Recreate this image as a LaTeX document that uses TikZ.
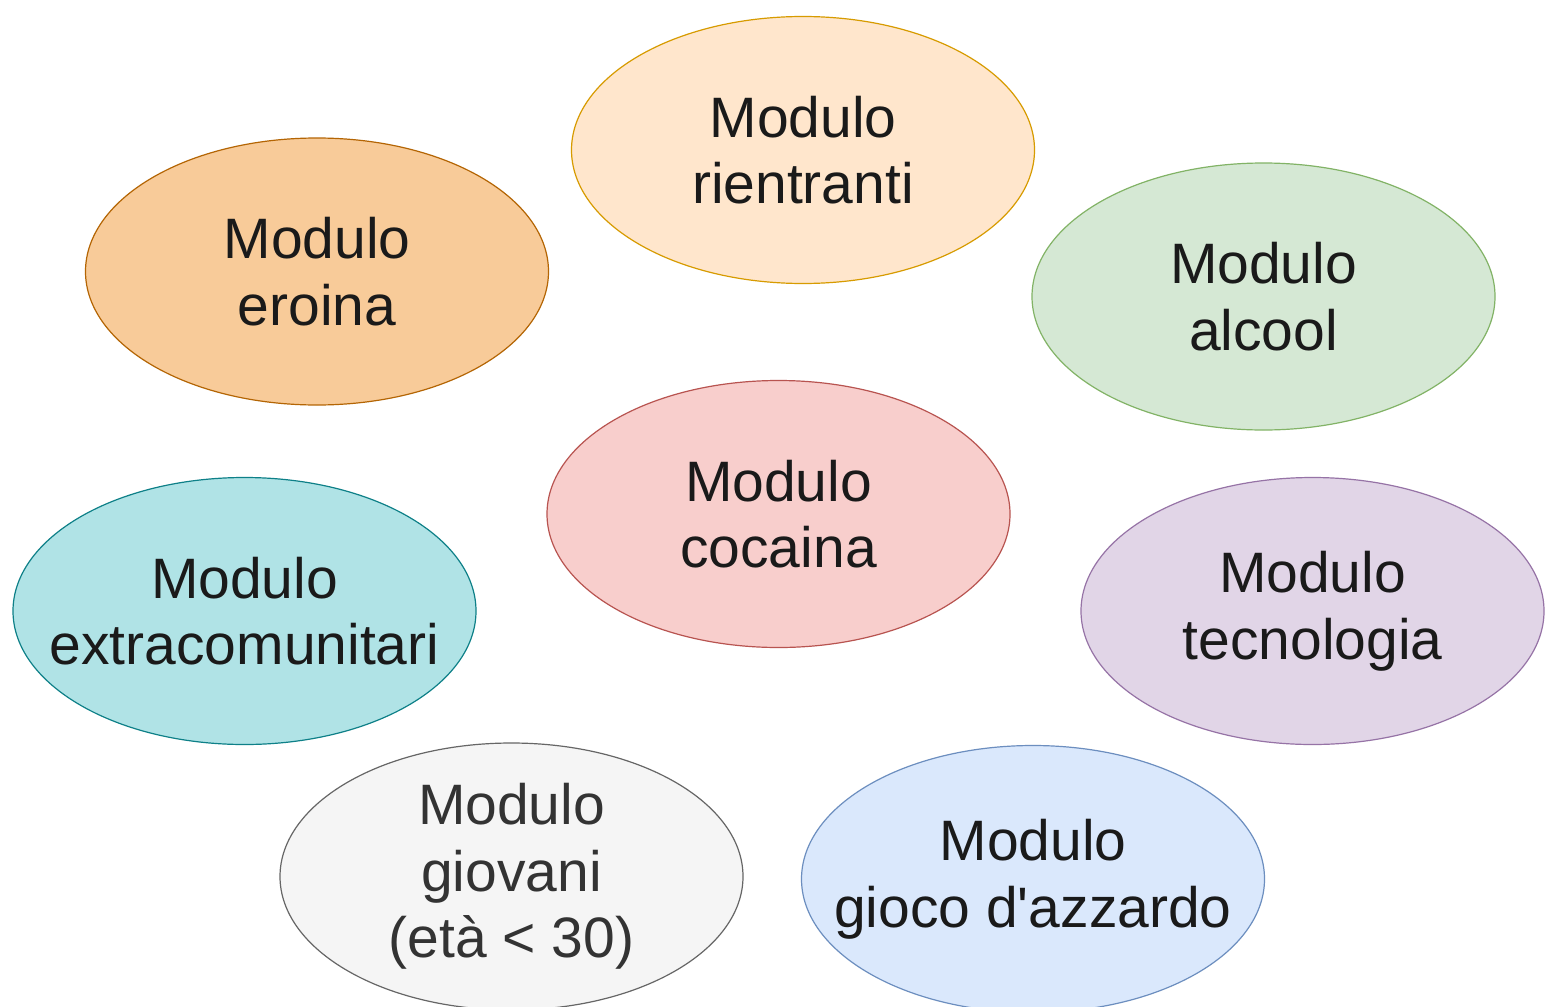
\documentclass[tikz,border=0pt]{standalone}
\usepackage{fontspec}
\setmainfont{Liberation Sans}[Ligatures=TeXOff]
\usetikzlibrary{shapes.geometric}
\definecolor{fOrL}{HTML}{FFE6CC}\definecolor{dOrL}{HTML}{D79B00}
\definecolor{fOr}{HTML}{F8CB99}\definecolor{dOr}{HTML}{B46504}
\definecolor{fGr}{HTML}{D5E8D4}\definecolor{dGr}{HTML}{82B366}
\definecolor{fRd}{HTML}{F8CECC}\definecolor{dRd}{HTML}{B85450}
\definecolor{fCy}{HTML}{B0E3E6}\definecolor{dCy}{HTML}{0E8088}
\definecolor{fPu}{HTML}{E1D5E7}\definecolor{dPu}{HTML}{9673A6}
\definecolor{fGy}{HTML}{F5F5F5}\definecolor{dGy}{HTML}{666666}
\definecolor{fBl}{HTML}{DAE8FC}\definecolor{dBl}{HTML}{6C8EBF}
\definecolor{txt}{HTML}{1A1A1A}
\definecolor{txtg}{HTML}{333333}
\tikzset{
  modell/.style={ellipse, inner sep=0pt, minimum width=231.5pt, minimum height=133.5pt, line width=0.6pt},
  modtext/.style={align=center, inner sep=0pt, text=txt, font=\fontsize{28.5}{33.3}\selectfont},
}
\begin{document}
\begin{tikzpicture}[x=0.5pt,y=-0.5pt]
\useasboundingbox (0,0) rectangle (1545,1006);
\fill[white] (0,0) rectangle (1545,1006);
\node[modell, fill=fOrL, draw=dOrL] (rient) at (803,150) {};
\node[modtext] (rient-t) at (rient) {Modulo\\rientranti};
\node[modell, fill=fOr, draw=dOr] (eroina) at (317,271.5) {};
\node[modtext] (eroina-t) at (eroina) {Modulo\\eroina};
\node[modell, fill=fGr, draw=dGr] (alcool) at (1263.5,296.5) {};
\node[modtext] (alcool-t) at (alcool) {Modulo\\alcool};
\node[modell, fill=fRd, draw=dRd] (coca) at (778.5,514) {};
\node[modtext] (coca-t) at (coca) {Modulo\\cocaina};
\node[modell, fill=fCy, draw=dCy] (extra) at (244.5,611) {};
\node[modtext] (extra-t) at (extra) {Modulo\\extracomunitari};
\node[modell, fill=fPu, draw=dPu] (tecno) at (1312.5,611) {};
\node[modtext] (tecno-t) at (tecno) {Modulo\\tecnologia};
\node[modell, fill=fGy, draw=dGy] (giov) at (511.5,876.5) {};
\node[modtext, text=txtg] (giov-t) at (giov) {Modulo\\giovani\\(età < 30)};
\node[modell, fill=fBl, draw=dBl] (gioco) at (1033,879) {};
\node[modtext] (gioco-t) at (gioco) {Modulo\\gioco d'azzardo};
\end{tikzpicture}
\end{document}
